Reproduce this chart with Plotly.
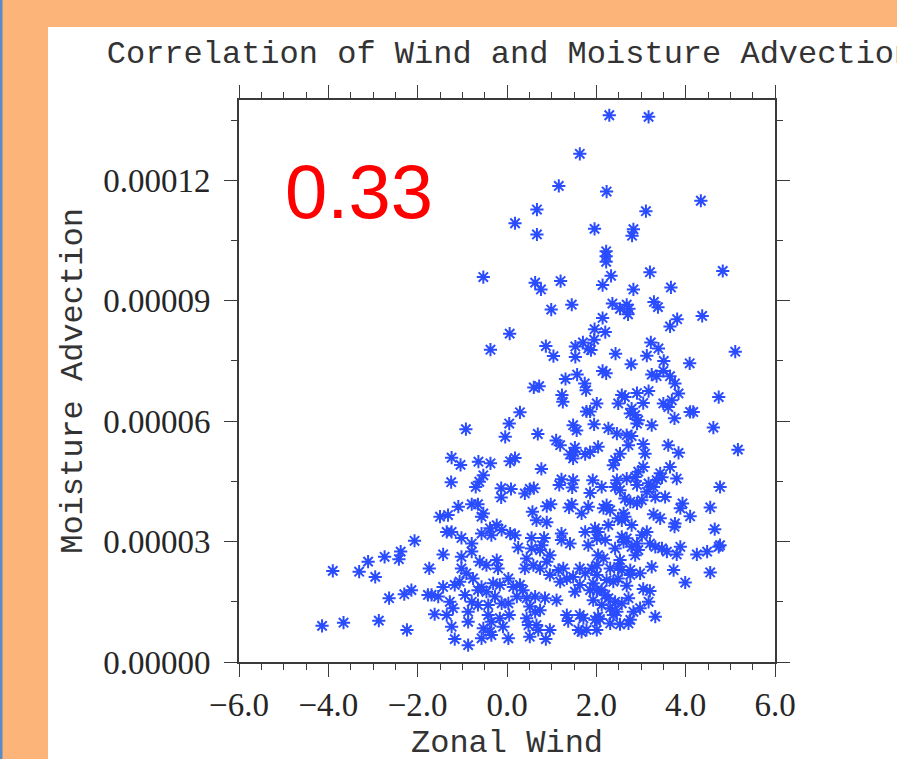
import plotly.graph_objects as go

# ---- data (Zonal Wind vs Moisture Advection; moisture in units of 1e-5) ----
wind_top = [-0.53, -0.37,
            2.29, 3.17, 1.63, 1.16, 2.23, 4.34, 0.67, 3.11, 0.18, 0.67,
            1.96, 2.83, 2.80, 2.22, 2.22, 2.22, 2.33, 3.20, 4.83, 0.63,
            0.76, 1.20, 2.14, 2.83, 3.67, 0.99, 1.45, 2.36, 2.53, 2.68,
            2.73, 2.71, 3.29, 3.38, 4.37, 3.81, 3.65, 2.14, 1.96, 2.20,
            0.06, 1.95, 1.70, 1.82, 1.88, 1.53, 0.87, 1.53, 1.04, 2.43,
            3.22, 3.39, 3.13, 3.51, 2.78, 4.09, 5.11, 1.57, 1.31, 2.14,
            2.22, 3.24, 3.35, 3.50, 3.65]
moist_top = [9.59, 7.78,
             13.62, 13.58, 12.66, 11.86, 11.72, 11.49, 11.27, 11.23, 10.93, 10.65,
             10.79, 10.78, 10.62, 10.23, 10.11, 9.97, 9.62, 9.71, 9.74, 9.45,
             9.28, 9.49, 9.39, 9.28, 9.33, 8.78, 8.90, 8.93, 8.80, 8.90,
             8.80, 8.66, 8.97, 8.84, 8.62, 8.54, 8.36, 8.57, 8.29, 8.22,
             8.18, 8.03, 7.96, 7.81, 7.77, 7.86, 7.87, 7.60, 7.62, 7.68,
             7.96, 7.81, 7.63, 7.50, 7.42, 7.44, 7.73, 7.16, 7.05, 7.25,
             7.19, 7.16, 7.12, 7.25, 7.12]

wind_west = [-2.07, -2.38, -2.42, -2.74, -3.11, -3.90, -3.31, -2.95, -2.14, -2.30,
             -2.64, -4.14, -3.66, -2.87, -2.24, -1.77]
moist_west = [3.02, 2.75, 2.56, 2.62, 2.50, 2.27, 2.25, 2.12, 1.79, 1.69,
              1.59, 0.90, 0.98, 1.03, 0.80, 1.67]

wind_mid_high = [1.74, 1.77, 0.60, 0.72, 1.23, 1.25, 2.01, 0.29, 1.78, 1.86,
                 0.05, -0.92, 1.48, 1.56, 1.95, -0.04, 0.69, 1.10, 1.19, 1.52,
                 2.04, 1.41, 1.48, 1.50, 1.75, 1.86, -1.24, -1.04, -0.64, -0.37,
                 0.07, 0.18, 0.77, -1.25, -0.53, -0.62, -0.70, -0.13, -0.13, 0.09,
                 0.40, 0.51, 0.60, 1.22, 1.17, 1.48, 1.46, 1.92, 1.86, -1.09,
                 -0.79, -0.65, -0.53, -0.57, -1.32, -1.50, 0.89, 0.98, 0.57, 1.45,
                 1.39, 1.82, 1.67]
moist_mid_high = [6.94, 6.77, 6.84, 6.87, 6.65, 6.48, 6.44, 6.22, 6.24, 6.24,
                  5.94, 5.80, 5.90, 5.77, 5.92, 5.61, 5.68, 5.52, 5.40, 5.34,
                  5.36, 5.17, 5.07, 5.23, 5.18, 5.23, 5.09, 4.91, 4.99, 4.95,
                  5.00, 5.08, 4.81, 4.48, 4.65, 4.49, 4.36, 4.33, 4.10, 4.31,
                  4.20, 4.31, 4.33, 4.55, 4.41, 4.53, 4.35, 4.53, 4.21, 3.87,
                  3.93, 3.93, 3.70, 3.62, 3.66, 3.62, 3.88, 3.93, 3.74, 3.93,
                  3.85, 3.87, 3.70]

wind_mid_low = [-1.35, -1.24, -1.02, -0.79, -0.57, -0.38, -0.23, -0.12, -0.35, 0.07,
                0.18, 0.66, 0.89, 0.55, 0.83, 0.78, 1.22, 1.22, 1.41, 1.75,
                1.97, 2.01, 1.82, 0.25, -1.43, -1.74, -1.02, -0.79, -0.61, -0.46,
                -0.23, -0.20, -1.02, -0.91, -0.76, -1.06, -1.17, -1.43, -0.57, -0.65,
                -0.46, -0.31, -0.16, 0.03, 0.14, 0.29, 0.36, 0.40, 0.59, 0.44,
                0.55, 0.74, 0.96, 0.89, 0.74, 0.96, 1.15, 1.26, 1.34, 1.19,
                1.48, 1.63, 1.75, 1.90, 2.01, 1.93, 1.86, 1.52, 1.63, -1.69,
                -1.54, -1.28, -1.21, -0.94, -0.79, -0.27, -0.12, 0.03, -0.65, -0.42,
                0.22, 0.44, 0.63, 0.85, 1.11, 0.51, 0.63, 0.74, -1.62, -1.35,
                -0.87, -0.87, -0.42, -0.35, -0.16, 0.05, 0.44, 0.48, 0.66, 0.70,
                -1.24, -0.53, -0.38, -0.09, 1.34, 1.37, 1.63, 1.71, 1.97, 2.01,
                1.60, 1.67, 1.78, 0.96, -1.17, -0.87, -0.57, -0.35, 0.03, 0.51,
                0.87, 1.93]
moist_mid_low = [3.24, 3.24, 3.09, 2.95, 3.20, 3.33, 3.41, 3.29, 3.16, 3.20,
                 3.16, 3.53, 3.48, 3.09, 3.09, 2.91, 3.20, 3.04, 2.95, 3.24,
                 3.33, 3.08, 2.91, 2.85, 2.68, 2.33, 2.62, 2.75, 2.50, 2.41,
                 2.54, 2.33, 2.33, 2.21, 2.08, 2.00, 1.92, 1.87, 1.87, 1.79,
                 1.75, 1.96, 1.92, 2.08, 1.87, 1.92, 1.79, 2.33, 2.41, 2.58,
                 2.83, 2.79, 2.66, 2.50, 2.33, 2.17, 2.29, 2.33, 2.08, 2.00,
                 2.12, 2.33, 2.21, 2.33, 2.17, 1.96, 1.79, 1.75, 1.92, 1.67,
                 1.63, 1.50, 1.34, 1.67, 1.50, 1.63, 1.46, 1.46, 1.42, 1.42,
                 1.63, 1.59, 1.63, 1.59, 1.54, 1.38, 1.25, 1.29, 1.19, 1.17,
                 1.25, 1.00, 1.17, 1.00, 1.09, 1.17, 1.09, 0.92, 0.92, 0.80,
                 0.88, 0.84, 0.75, 0.88, 1.17, 1.02, 1.17, 1.09, 1.05, 0.80,
                 0.80, 0.75, 0.80, 0.80, 0.57, 0.42, 0.59, 0.67, 0.59, 0.63,
                 0.57, 1.54]

wind_east_high = [3.76, 3.84, 4.74, 2.57, 2.64, 2.49, 2.91, 3.17, 3.05, 2.79,
                  2.76, 2.87, 2.94, 2.91, 3.50, 3.61, 3.69, 4.10, 4.17, 3.75,
                  3.24, 4.62, 2.27, 2.46, 2.68, 2.79, 2.72, 3.05, 3.09, 3.61,
                  3.84, 5.17, 2.42, 2.53, 2.38, 3.05, 2.94, 3.65, 3.43, 3.47,
                  3.35, 3.80, 4.77, 2.12, 2.46, 2.42, 2.53, 2.68, 2.87, 2.91,
                  3.17, 3.28, 3.13, 2.64, 2.76, 2.91, 3.02, 3.32, 3.54, 2.23,
                  2.31, 2.16, 2.61, 2.64, 3.28, 3.43, 3.93, 3.88, 4.10, 4.55,
                  2.49]
moist_east_high = [6.94, 6.69, 6.60, 6.65, 6.60, 6.44, 6.70, 6.75, 6.45, 6.31,
                   6.19, 6.15, 6.02, 5.94, 6.44, 6.35, 6.52, 6.23, 6.23, 6.07,
                   5.90, 5.84, 5.82, 5.69, 5.65, 5.63, 5.40, 5.43, 5.19, 5.40,
                   5.21, 5.29, 5.03, 5.19, 4.90, 4.86, 4.74, 4.86, 4.70, 4.60,
                   4.53, 4.57, 4.36, 4.36, 4.53, 4.36, 4.28, 4.57, 4.61, 4.41,
                   4.45, 4.36, 4.24, 4.07, 3.99, 3.95, 4.03, 4.11, 4.11, 3.91,
                   3.78, 3.83, 3.70, 3.62, 3.68, 3.58, 3.95, 3.83, 3.63, 3.85,
                   3.58]

wind_east_low = [2.04, 2.27, 2.57, 2.79, 3.13, 3.02, 3.75, 3.76, 4.65, 2.57,
                 2.68, 2.61, 2.20, 2.42, 2.79, 2.91, 2.94, 2.87, 3.20, 3.32,
                 3.47, 3.58, 3.88, 3.80, 4.25, 4.48, 4.74, 4.77, 2.04, 2.16,
                 2.01, 2.53, 2.49, 2.57, 2.31, 2.76, 2.76, 2.98, 3.24, 3.73,
                 4.55, 3.99, 2.23, 2.12, 2.38, 2.49, 2.68, 3.05, 3.20, 2.01,
                 2.20, 2.27, 2.42, 2.72, 3.17, 2.57, 2.12, 2.31, 2.46, 2.83,
                 2.98, 2.04, 2.08, 2.38, 2.76, 2.72, 3.32, 2.31, 2.53]
moist_east_low = [3.24, 3.41, 3.53, 3.41, 3.24, 3.16, 3.37, 3.45, 3.31, 3.12,
                  3.08, 2.99, 3.04, 2.83, 2.87, 2.95, 2.79, 2.66, 2.95, 2.87,
                  2.83, 2.75, 2.87, 2.68, 2.68, 2.75, 2.87, 2.91, 2.66, 2.58,
                  2.41, 2.54, 2.37, 2.29, 2.33, 2.29, 2.17, 2.21, 2.37, 2.29,
                  2.23, 1.98, 2.04, 1.79, 2.00, 2.08, 1.90, 1.82, 1.77, 1.79,
                  1.67, 1.59, 1.50, 1.59, 1.50, 1.46, 1.42, 1.34, 1.25, 1.25,
                  1.34, 1.13, 1.07, 1.17, 1.05, 0.96, 1.13, 0.96, 0.94]

correlation_label = "0.33"
title_text = "Correlation of Wind and Moisture Advection"
x_title = "Zonal Wind"
y_title = "Moisture Advection"

zonal_wind = (wind_top + wind_west + wind_mid_high + wind_mid_low
              + wind_east_high + wind_east_low)
moisture_e5 = (moist_top + moist_west + moist_mid_high + moist_mid_low
               + moist_east_high + moist_east_low)
moisture = [v * 1e-5 for v in moisture_e5]

# ---- figure ----
W, H = 897, 759
L, R, T, B = 239, 122, 100, 97
PW, PH = W - L - R, H - T - B


def px_x(p):
    return (p - L) / PW


def px_y(p):
    return (H - B - p) / PH


fig = go.Figure()
fig.add_trace(go.Scatter(
    x=zonal_wind, y=moisture, mode="markers",
    marker=dict(symbol="asterisk-open", size=11, opacity=1,
                color="#2a4cff",
                line=dict(color="#2a4cff", width=2.0)),
    showlegend=False, hoverinfo="x+y"))

ink = "#262626"
tickfont = dict(family="Liberation Serif", size=33, color=ink)
titlefont = dict(family="Liberation Mono", size=32, color="#333333")

common = dict(showline=True, linecolor="#3a3a3a", linewidth=1.6, mirror="ticks",
              ticks="outside", ticklen=13, tickwidth=1.3, tickcolor="#3a3a3a",
              showgrid=False, zeroline=False, tickfont=tickfont)

fig.update_xaxes(range=[-6, 6], tick0=0, dtick=2, tickformat=".1f",
                 minor=dict(dtick=0.5, ticks="outside", ticklen=6,
                            tickwidth=1.1, tickcolor="#3a3a3a", showgrid=False),
                 ticklabelstandoff=0, **common)
fig.update_yaxes(range=[0, 0.00014], tick0=0, dtick=0.00003, tickformat=".5f",
                 minor=dict(dtick=0.000015, ticks="outside", ticklen=6,
                            tickwidth=1.1, tickcolor="#3a3a3a", showgrid=False),
                 title=dict(text=y_title, font=titlefont, standoff=11),
                 ticklabelstandoff=7, **common)

fig.update_layout(
    width=W, height=H,
    margin=dict(l=L, r=R, t=T, b=B, autoexpand=False),
    paper_bgcolor="#fdb479", plot_bgcolor="white",
    title=dict(text=title_text, font=titlefont, x=px_x(510), xref="paper",
               xanchor="center", y=1 - 52 / H, yref="container", yanchor="middle"),
    shapes=[
        dict(type="rect", xref="paper", yref="paper", layer="below",
             x0=px_x(48), x1=px_x(W + 5), y0=px_y(H + 5), y1=px_y(27),
             fillcolor="white", line=dict(width=0)),
        dict(type="rect", xref="paper", yref="paper", layer="below",
             x0=px_x(-2), x1=px_x(2.5), y0=px_y(H + 5), y1=px_y(-5),
             fillcolor="#5b8ac8", line=dict(width=0)),
    ],
    annotations=[
        dict(text=correlation_label, xref="paper", yref="paper",
             x=px_x(359), y=px_y(191), xanchor="center", yanchor="middle",
             showarrow=False,
             font=dict(family="Liberation Sans", size=76, color="#ff0000")),
        dict(text=x_title, xref="paper", yref="paper",
             x=0.5, y=px_y(743), xanchor="center", yanchor="middle",
             showarrow=False, font=titlefont),
    ],
)

fig.write_html("out.html")
